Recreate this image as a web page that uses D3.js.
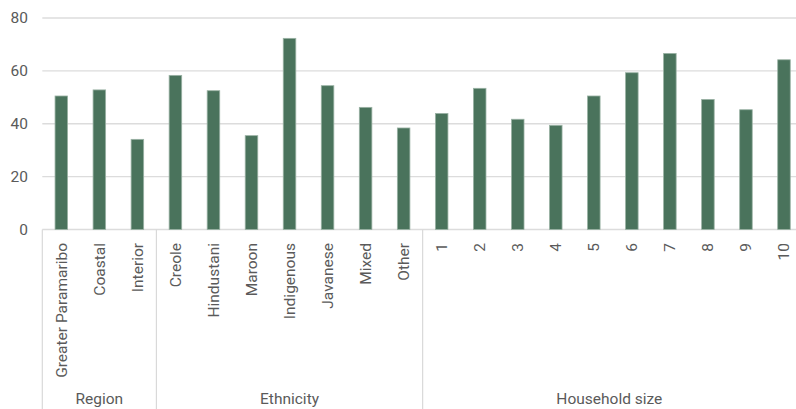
<!DOCTYPE html>
<html>
<head>
<meta charset="utf-8">
<script src="https://cdn.jsdelivr.net/npm/d3@7"></script>
<style>
  html, body { margin: 0; padding: 0; background: #fff; }
  svg { display: block; font-family: "Roboto", "Liberation Sans", sans-serif; }
</style>
</head>
<body>
<svg id="chart" width="796" height="409"></svg>
<script>
const groupNames = ["Region", "Ethnicity", "Household size"];
const regionCats = ["Greater Paramaribo", "Coastal", "Interior"];
const regionValues = [50.5, 52.8, 34.1];
const ethnicityCats = ["Creole", "Hindustani", "Maroon", "Indigenous", "Javanese", "Mixed", "Other"];
const ethnicityValues = [58.3, 52.5, 35.5, 72.3, 54.4, 46.2, 38.4];
const householdCats = ["1", "2", "3", "4", "5", "6", "7", "8", "9", "10"];
const householdValues = [43.9, 53.4, 41.7, 39.4, 50.5, 59.3, 66.6, 49.2, 45.3, 64.2];
const yTicks = [0, 20, 40, 60, 80];

(function () {
const groups = [
  { name: groupNames[0], cats: regionCats, vals: regionValues },
  { name: groupNames[1], cats: ethnicityCats, vals: ethnicityValues },
  { name: groupNames[2], cats: householdCats, vals: householdValues }
];
const data = [];
groups.forEach((g, gi) => g.cats.forEach((c, i) => data.push({ key: gi + "|" + c, label: c, value: g.vals[i], group: gi })));

const svg = d3.select("#chart");
const mLeft = 42.3, mRight = 803, mTop = 18, mBottom = 229.5;
const x = d3.scaleBand().domain(data.map(d => d.key)).range([mLeft, mRight]).paddingInner(0.67).paddingOuter(0.335);
const y = d3.scaleLinear().domain([0, 80]).range([mBottom, mTop]);
const textColor = "#5a5a5a";
const fontSize = 15.5;

svg.append("g").selectAll("line").data(yTicks).join("line")
  .attr("x1", mLeft).attr("x2", 796)
  .attr("y1", d => y(d)).attr("y2", d => y(d))
  .attr("stroke", "#dcdcdc").attr("stroke-width", 1.3);

svg.append("g").selectAll("text").data(yTicks).join("text")
  .attr("x", 28).attr("y", d => y(d)).attr("dy", "0.35em")
  .attr("text-anchor", "end").attr("fill", textColor)
  .style("font-size", fontSize + "px").text(d => d);

svg.append("g").selectAll("rect").data(data).join("rect")
  .attr("x", d => x(d.key)).attr("width", x.bandwidth())
  .attr("y", d => y(d.value)).attr("height", d => y(0) - y(d.value))
  .attr("fill", "#4a735c").attr("stroke", "#9ab2a4").attr("stroke-width", 0.8);

const step = x.step();
const sepXs = [mLeft];
let idx = 0;
groups.forEach((g, gi) => { if (gi > 0) sepXs.push(x(data[idx].key) - step * 0.335); idx += g.cats.length; });
svg.append("g").selectAll("line").data(sepXs).join("line")
  .attr("x1", d => d).attr("x2", d => d).attr("y1", mBottom).attr("y2", 409)
  .attr("stroke", "#d9d9d9").attr("stroke-width", 1.2);

svg.append("g").selectAll("text").data(data).join("text")
  .attr("transform", d => `translate(${x(d.key) + x.bandwidth() / 2},243) rotate(-90)`)
  .attr("dy", "0.35em").attr("text-anchor", "end").attr("fill", textColor)
  .style("font-size", fontSize + "px").text(d => d.label);

idx = 0;
const groupPos = groups.map((g, gi) => {
  const x0 = x(data[idx].key) - step * 0.335;
  idx += g.cats.length;
  const x1 = Math.min(x(data[idx - 1].key) + x.bandwidth() + step * 0.335, 796);
  return { name: g.name, cx: (x0 + x1) / 2 };
});
svg.append("g").selectAll("text").data(groupPos).join("text")
  .attr("x", d => d.cx).attr("y", 404).attr("text-anchor", "middle")
  .attr("fill", textColor).style("font-size", fontSize + "px").text(d => d.name);
})();
</script>
</body>
</html>
